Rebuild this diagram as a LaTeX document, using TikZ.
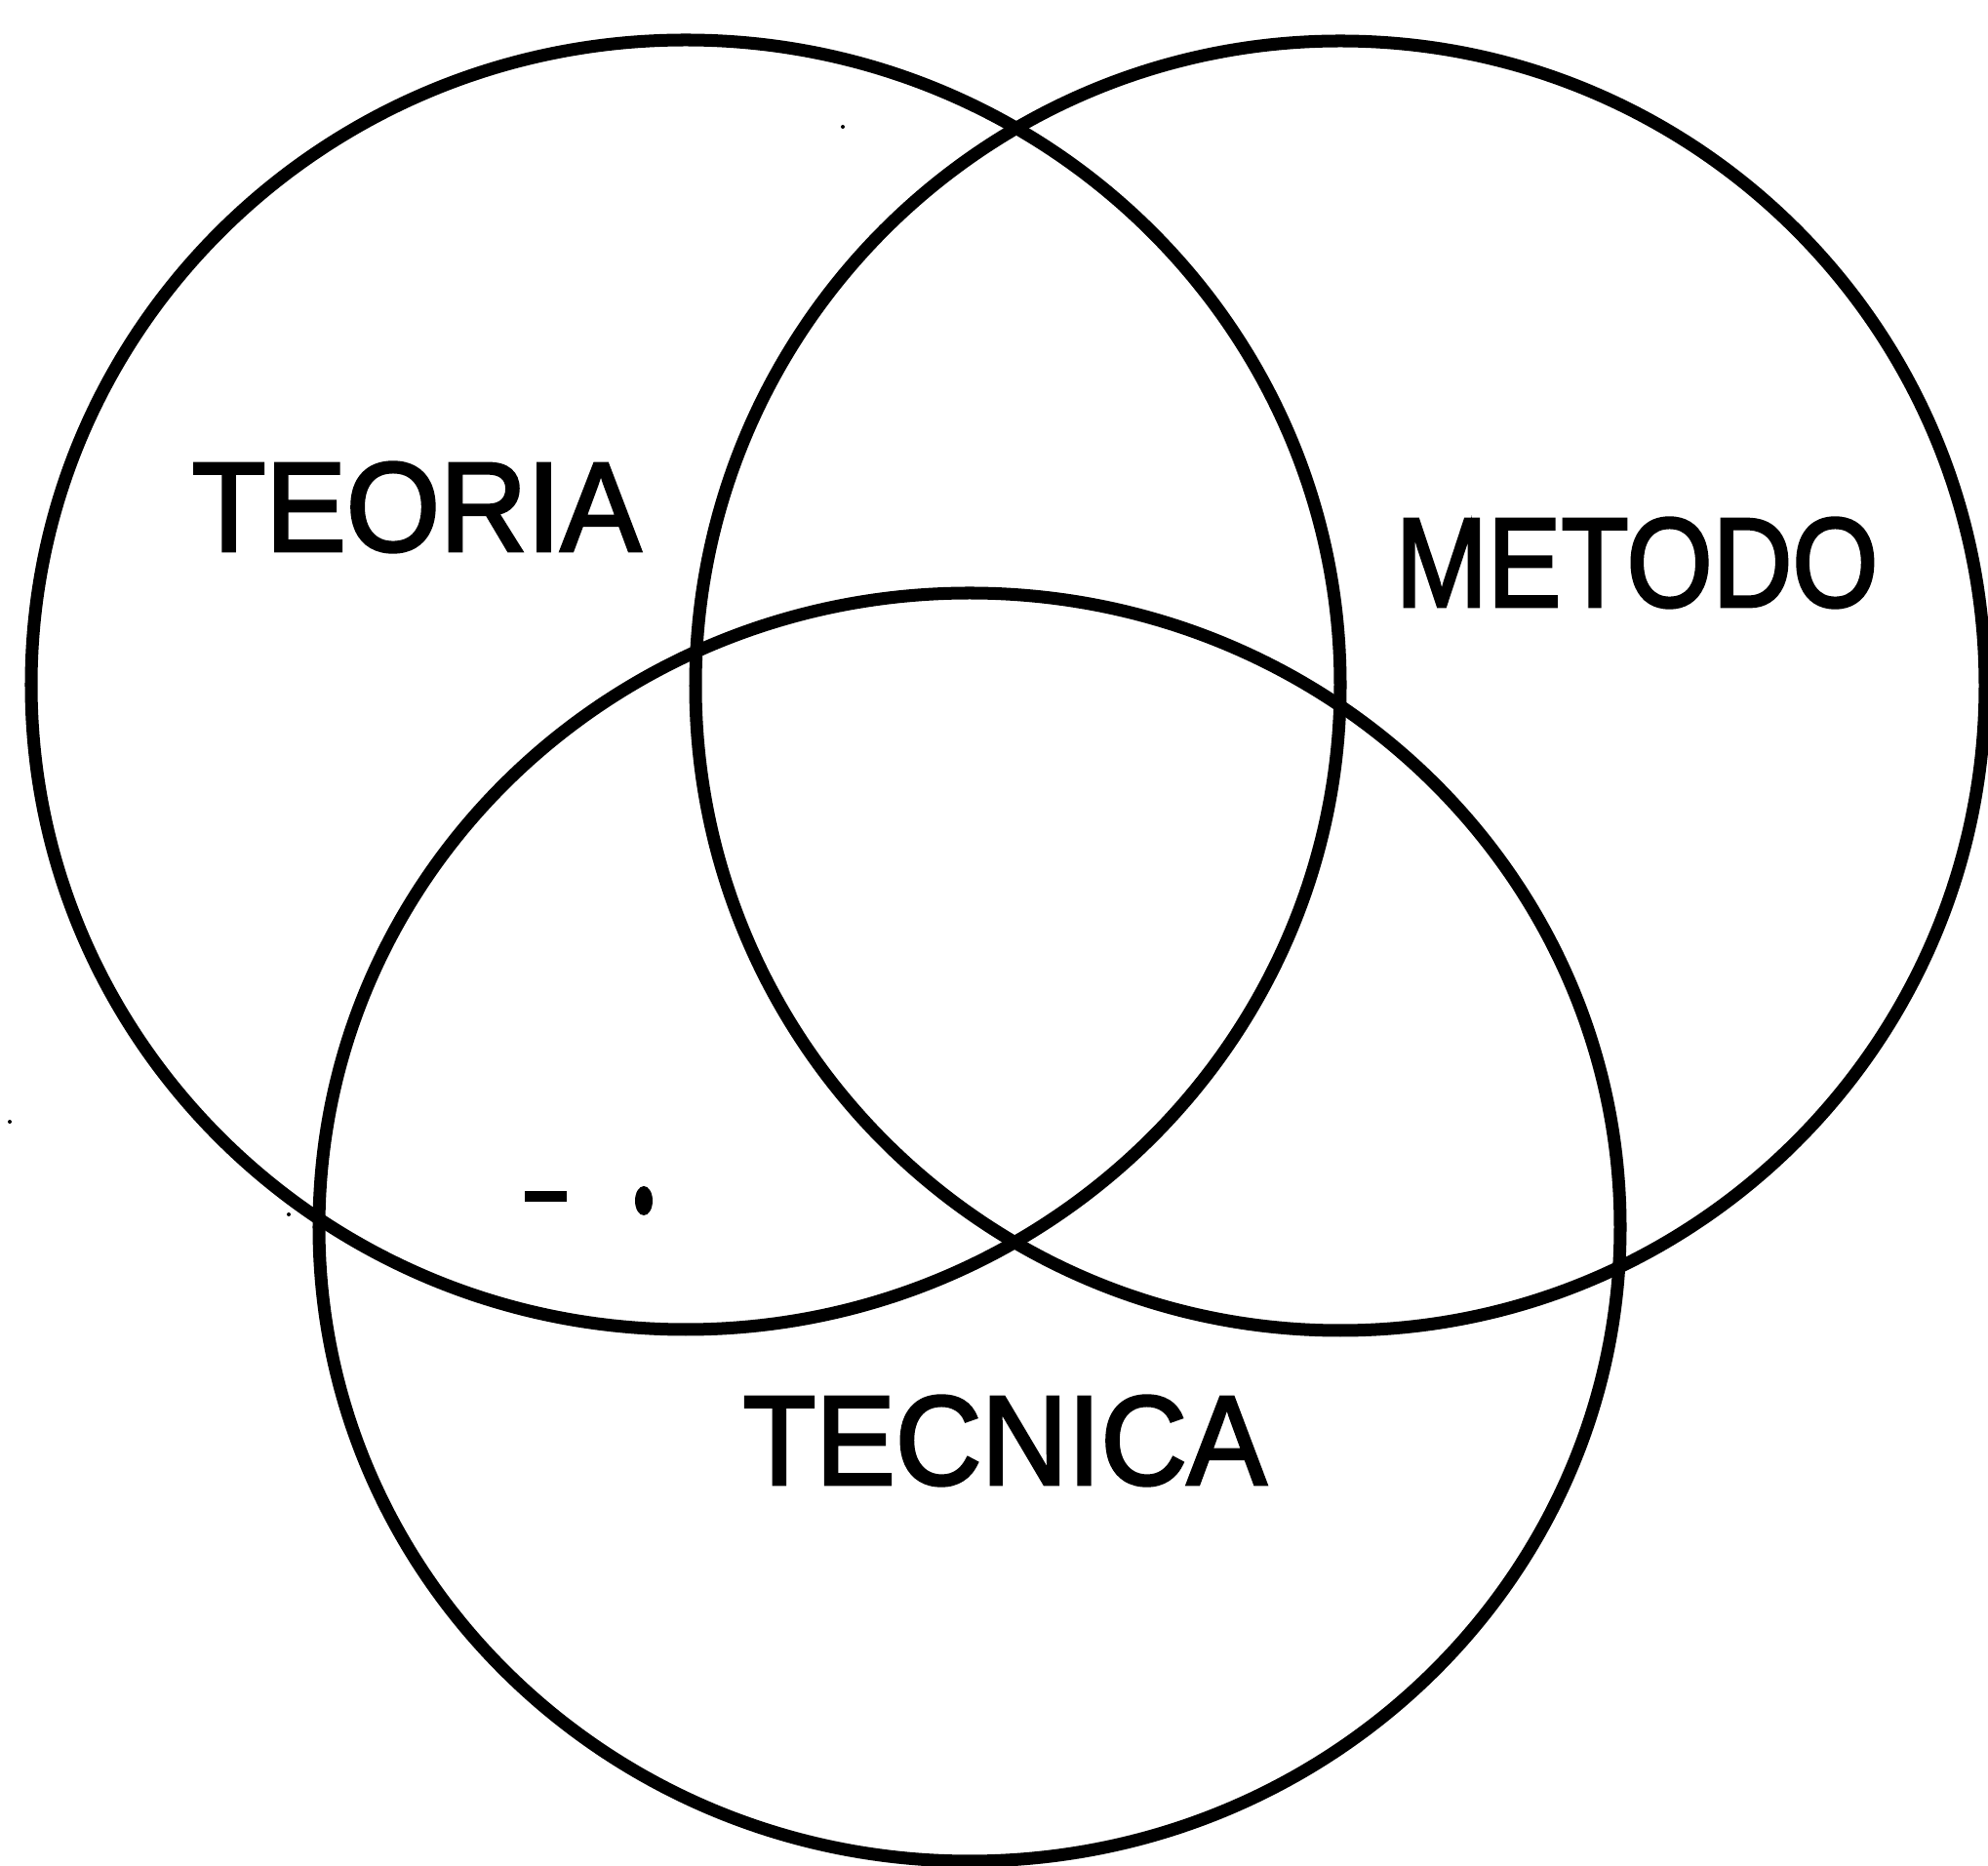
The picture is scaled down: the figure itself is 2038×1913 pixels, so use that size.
\documentclass[tikz,border=0pt]{standalone}
\usepackage{fontspec}
\setmainfont{Liberation Sans}
\newfontfamily\lblfont[FakeBold=2.5]{Liberation Sans}
\begin{document}
\begin{tikzpicture}[x=0.01cm,y=-0.01cm,
  ring/.style={line width=3.7pt},
  lbl/.style={inner sep=0pt,font=\lblfont\fontsize{37}{40}\selectfont},
  speck/.style={fill=black}]
\useasboundingbox (0,0) rectangle (2038,1913);
\coordinate (cT) at (703,702);
\coordinate (cM) at (1374,703);
\coordinate (cC) at (994,1258);
\draw[ring] (cT) ellipse [x radius=671, y radius=661];
\draw[ring] (cM) ellipse [x radius=661, y radius=661];
\draw[ring] (cC) ellipse [x radius=667, y radius=650];
\node[lbl,xscale=0.95] (teoria) at (427,520) {TEORIA};
\node[lbl,xscale=0.87] (metodo) at (1678,577) {METODO};
\node[lbl,xscale=0.94] (tecnica) at (1030,1477) {TECNICA};
\fill[speck] (538,1221) rectangle (581,1232);
\fill[speck] (660,1231) ellipse [x radius=9, y radius=15];
\fill[speck] (864,130) circle (2);
\fill[speck] (10,1150) circle (2);
\fill[speck] (296,1245) circle (2);
\end{tikzpicture}
\end{document}
